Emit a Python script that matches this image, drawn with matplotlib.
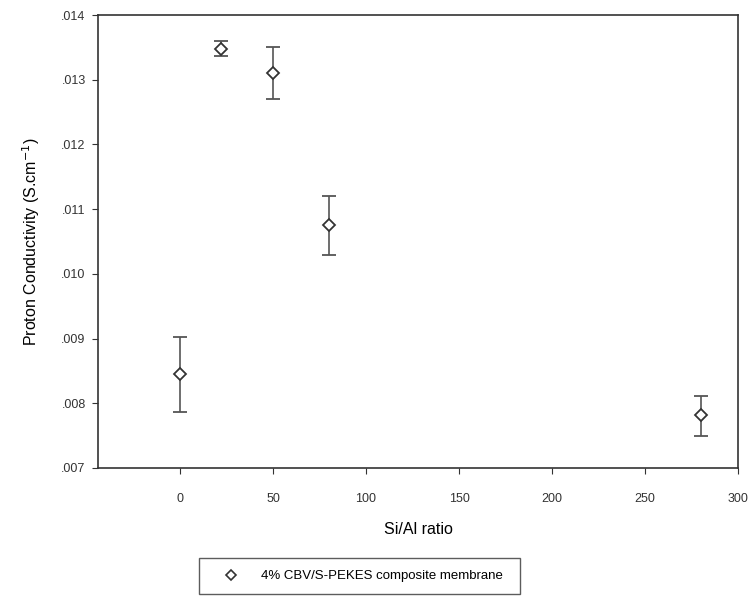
import matplotlib.pyplot as plt
from matplotlib.lines import Line2D
from matplotlib.ticker import FuncFormatter

# Data
si_al = [0, 22, 50, 80, 280]
conductivity = [0.00845, 0.01348, 0.01310, 0.01075, 0.00782]
err_low = [0.00058, 0.00012, 0.00040, 0.00046, 0.00032]
err_high = [0.00058, 0.00012, 0.00040, 0.00046, 0.00030]
series_label = "4% CBV/S-PEKES composite membrane"

plt.rcParams['font.family'] = ['Liberation Sans', 'DejaVu Sans']

fig = plt.figure(figsize=(7.5, 6.02), dpi=100)
ax = fig.add_axes([0.131, 0.2226, 0.853, 0.7524])

ax.errorbar(si_al, conductivity, yerr=[err_low, err_high], fmt='D', ms=6,
            mfc='white', mec='#333333', mew=1.3, ecolor='#555555', elinewidth=1.2,
            capsize=5, capthick=1.2)

ax.set_xlim(-44, 300)
ax.set_ylim(0.007, 0.014)
ax.set_xticks([0, 50, 100, 150, 200, 250, 300])
ax.set_yticks([0.007, 0.008, 0.009, 0.010, 0.011, 0.012, 0.013, 0.014])
ax.yaxis.set_major_formatter(FuncFormatter(lambda v, p: f"{v:.3f}".lstrip('0')))

for s in ax.spines.values():
    s.set_color('#333333')
    s.set_linewidth(1.2)
ax.tick_params(direction='out', length=4, labelsize=9, colors='#333333')
ax.tick_params(axis='x', pad=14)
ax.tick_params(axis='y', pad=5)

ax.set_xlabel("Si/Al ratio", fontsize=11.5, labelpad=12)
ax.set_ylabel("Proton Conductivity (S.cm$^{-1}$)", fontsize=11.5, labelpad=14)

# legend below the axes, marker only
handle = Line2D([], [], ls='none', marker='D', ms=5, mfc='white', mec='#333333', mew=1.2)
fig.legend([handle], [series_label], loc='center',
           bbox_to_anchor=(199 / 750, 1 - 594 / 602, 321 / 750, 36 / 602), mode='expand',
           fontsize=9.5, frameon=True, fancybox=False, edgecolor='#333333',
           handlelength=3, handletextpad=0.8, borderpad=0.9, borderaxespad=0)

plt.savefig('out.png', dpi=100)
